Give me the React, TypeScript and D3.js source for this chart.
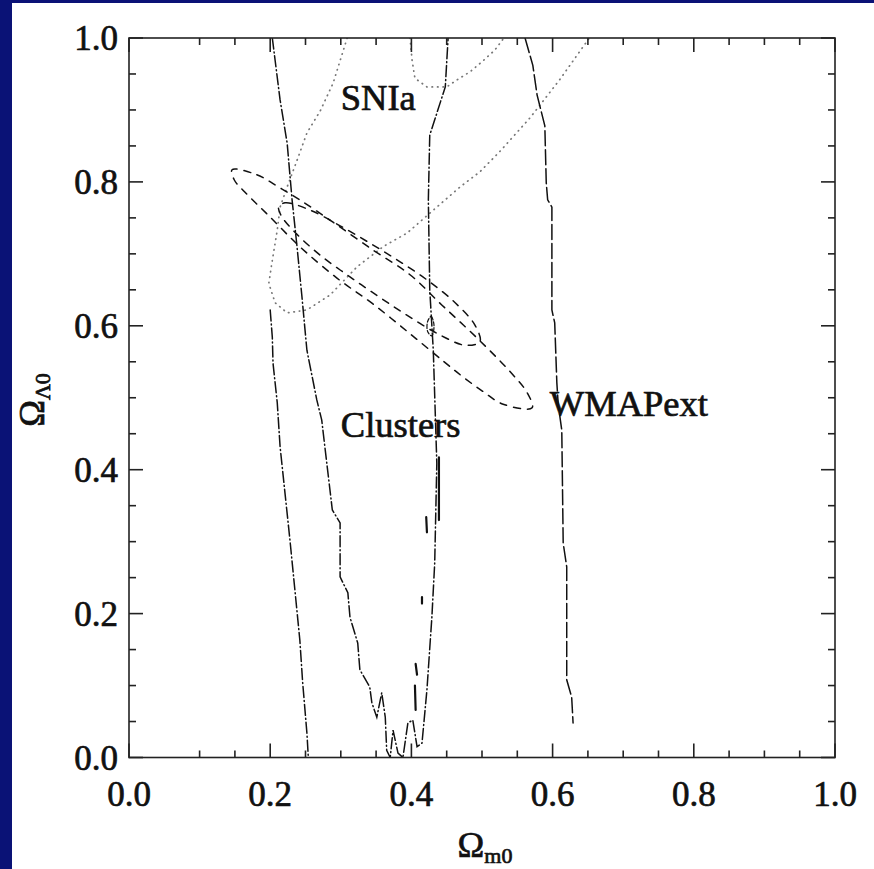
import React from 'react';
import * as d3 from 'd3';

type P = [number, number];

// ---- axes ----
const xMajorTicks = [0, 0.2, 0.4, 0.6, 0.8, 1.0];
const xTickLabels = ['0.0', '0.2', '0.4', '0.6', '0.8', '1.0'];
const xMinorTicks = [0.1, 0.15, 0.25, 0.3, 0.35, 0.45, 0.5, 0.55, 0.65, 0.7, 0.75, 0.85, 0.9, 0.95];
const yMajorTicks = [0, 0.2, 0.4, 0.6, 0.8, 1.0];
const yTickLabels = ['0.0', '0.2', '0.4', '0.6', '0.8', '1.0'];
const yMinorTicks = [0.05, 0.1, 0.15, 0.25, 0.3, 0.35, 0.45, 0.5, 0.55, 0.65, 0.7, 0.75, 0.85, 0.9, 0.95];

// ---- SNIa (dotted) ----
const sniaOuter: P[] = [
  [0.309, 1.0], [0.289, 0.937], [0.271, 0.899], [0.252, 0.868], [0.238, 0.83], [0.224, 0.793],
  [0.214, 0.765], [0.21, 0.733], [0.203, 0.691], [0.198, 0.659], [0.207, 0.632], [0.224, 0.618],
  [0.252, 0.622], [0.285, 0.643], [0.323, 0.682], [0.36, 0.71], [0.394, 0.729], [0.436, 0.765],
  [0.469, 0.793], [0.497, 0.814], [0.525, 0.842], [0.568, 0.889], [0.61, 0.942], [0.652, 1.0],
];
const sniaInner: P[] = [
  [0.398, 1.0], [0.401, 0.969], [0.405, 0.944], [0.422, 0.932], [0.45, 0.932], [0.465, 0.942],
  [0.483, 0.953], [0.5, 0.967], [0.518, 0.983], [0.531, 1.0],
];

// ---- Clusters (dash-dot) ----
const clustersInner: P[] = [
  [0.203, 1.0], [0.214, 0.914], [0.224, 0.854], [0.231, 0.775], [0.238, 0.71], [0.245, 0.64],
  [0.252, 0.566], [0.266, 0.497], [0.273, 0.469], [0.278, 0.427], [0.288, 0.344], [0.299, 0.326],
  [0.299, 0.251], [0.31, 0.229], [0.313, 0.195], [0.324, 0.159], [0.327, 0.122], [0.341, 0.098],
  [0.344, 0.076], [0.351, 0.056], [0.358, 0.09], [0.363, 0.056], [0.365, 0.01], [0.37, 0.0],
  [0.374, 0.038], [0.381, 0.006], [0.388, 0.0], [0.395, 0.048], [0.402, 0.052], [0.408, 0.015],
  [0.415, 0.02], [0.422, 0.094], [0.429, 0.195], [0.433, 0.27], [0.436, 0.409], [0.431, 0.566],
  [0.426, 0.65], [0.424, 0.775], [0.426, 0.865], [0.448, 0.932], [0.452, 1.0],
];
const clustersOuterLeft: P[] = [
  [0.2, 0.622], [0.203, 0.584], [0.204, 0.548], [0.21, 0.493], [0.214, 0.432], [0.228, 0.302],
  [0.242, 0.163], [0.246, 0.104], [0.252, 0.034], [0.254, 0.0],
];
const clustersOuterRight: P[] = [
  [0.561, 1.0], [0.572, 0.962], [0.578, 0.921], [0.589, 0.878], [0.591, 0.799], [0.593, 0.775],
  [0.599, 0.765], [0.599, 0.622], [0.603, 0.604], [0.606, 0.521], [0.608, 0.49], [0.613, 0.455],
  [0.615, 0.298], [0.62, 0.265], [0.62, 0.108], [0.627, 0.084], [0.629, 0.048],
];
const clustersLoop: P[] = [
  [0.423, 0.606], [0.428, 0.613], [0.432, 0.601], [0.429, 0.586], [0.423, 0.592],
];
const clustersFragA: P[] = [[0.439, 0.417], [0.439, 0.33]];
const clustersFragB: P[] = [[0.421, 0.334], [0.422, 0.313]];
const clustersFragC: P[] = [[0.415, 0.223], [0.415, 0.214]];
const clustersFragD: P[] = [[0.406, 0.13], [0.408, 0.115]];
const clustersFragE: P[] = [[0.405, 0.1], [0.406, 0.066]];

// ---- WMAPext (dashed) ----
const wmapOuter: P[] = [
  [0.146, 0.817], [0.181, 0.81], [0.21, 0.794], [0.242, 0.775], [0.289, 0.744], [0.346, 0.705],
  [0.398, 0.671], [0.443, 0.629], [0.493, 0.583], [0.54, 0.536], [0.564, 0.507], [0.571, 0.486],
  [0.53, 0.491], [0.501, 0.509], [0.473, 0.529], [0.445, 0.551], [0.398, 0.589], [0.346, 0.63],
  [0.295, 0.666], [0.242, 0.71], [0.197, 0.754], [0.164, 0.786], [0.149, 0.803],
];
const wmapInner: P[] = [
  [0.212, 0.765], [0.221, 0.771], [0.256, 0.761], [0.299, 0.739], [0.341, 0.715], [0.384, 0.689],
  [0.426, 0.661], [0.462, 0.632], [0.49, 0.601], [0.497, 0.578], [0.476, 0.573], [0.441, 0.587],
  [0.398, 0.612], [0.356, 0.639], [0.313, 0.668], [0.271, 0.698], [0.235, 0.73], [0.215, 0.754],
];

const labels = [
  { text: 'SNIa', x: 0.3, y: 0.9 },
  { text: 'Clusters', x: 0.3, y: 0.445 },
  { text: 'WMAPext', x: 0.596, y: 0.475 },
];

const W = 874;
const H = 869;
const PL = 129, PR = 835, PT = 38, PB = 757.5;
const FONT = '"Liberation Serif", "DejaVu Serif", serif';
const INK = '#111';

export default function App() {
  const x = d3.scaleLinear().domain([0, 1]).range([PL, PR]);
  const y = d3.scaleLinear().domain([0, 1]).range([PB, PT]);
  const line = d3.line<P>().x((d) => x(d[0])).y((d) => y(d[1]));
  const closed = d3.line<P>().x((d) => x(d[0])).y((d) => y(d[1])).curve(d3.curveCatmullRomClosed);

  const major = 14, minor = 7;
  const textStroke = { stroke: INK, strokeWidth: 0.7 };
  const frags = [clustersFragA, clustersFragB, clustersFragC, clustersFragD, clustersFragE];

  return (
    <svg width={W} height={H} style={{ position: 'fixed', left: 0, top: 0, display: 'block' }}>
      <rect x={0} y={0} width={W} height={H} fill="#0a1276" />
      <rect x={12} y={3} width={W - 12} height={H - 3} fill="#ffffff" />
      <defs>
        <clipPath id="plotclip">
          <rect x={PL} y={PT} width={PR - PL} height={PB - PT} />
        </clipPath>
      </defs>

      <g clipPath="url(#plotclip)" fill="none" strokeLinecap="round">
        <path d={line(sniaOuter) || ''} stroke="#777" strokeWidth={1.7} strokeDasharray="0.5,5" />
        <path d={line(sniaInner) || ''} stroke="#777" strokeWidth={1.7} strokeDasharray="0.5,5" />
        <path d={line(clustersInner) || ''} stroke={INK} strokeWidth={1.5} strokeDasharray="11,3,1,3" />
        <path d={line(clustersOuterLeft) || ''} stroke={INK} strokeWidth={1.5} strokeDasharray="11,3,1,3" />
        <path d={line(clustersOuterRight) || ''} stroke={INK} strokeWidth={1.5} strokeDasharray="15,4" />
        <path d={closed(clustersLoop) || ''} stroke={INK} strokeWidth={1.2} strokeDasharray="4,2" />
        {frags.map((f, i) => (
          <path key={'f' + i} d={line(f) || ''} stroke={INK} strokeWidth={2.2} />
        ))}
        <path d={closed(wmapOuter) || ''} stroke={INK} strokeWidth={1.5} strokeDasharray="7,7" />
        <path d={closed(wmapInner) || ''} stroke={INK} strokeWidth={1.5} strokeDasharray="7,7" />
      </g>

      {/* frame */}
      <rect x={PL} y={PT} width={PR - PL} height={PB - PT} fill="none" stroke="#222" strokeWidth={1.6} />

      {/* ticks */}
      <g stroke="#222" strokeWidth={1.6}>
        {xMajorTicks.map((t) => (
          <g key={'xm' + t}>
            <line x1={x(t)} x2={x(t)} y1={PB} y2={PB - major} />
            <line x1={x(t)} x2={x(t)} y1={PT} y2={PT + major} />
          </g>
        ))}
        {xMinorTicks.map((t) => (
          <g key={'xn' + t}>
            <line x1={x(t)} x2={x(t)} y1={PB} y2={PB - minor} />
            <line x1={x(t)} x2={x(t)} y1={PT} y2={PT + minor} />
          </g>
        ))}
        {yMajorTicks.map((t) => (
          <g key={'ym' + t}>
            <line x1={PL} x2={PL + major} y1={y(t)} y2={y(t)} />
            <line x1={PR} x2={PR - major} y1={y(t)} y2={y(t)} />
          </g>
        ))}
        {yMinorTicks.map((t) => (
          <g key={'yn' + t}>
            <line x1={PL} x2={PL + minor} y1={y(t)} y2={y(t)} />
            <line x1={PR} x2={PR - minor} y1={y(t)} y2={y(t)} />
          </g>
        ))}
      </g>

      {/* tick labels */}
      <g fontFamily={FONT} fontSize={35} fill={INK} {...textStroke}>
        {xMajorTicks.map((t, i) => (
          <text key={'xl' + t} x={x(t)} y={806} textAnchor="middle">{xTickLabels[i]}</text>
        ))}
        {yMajorTicks.map((t, i) => (
          <text key={'yl' + t} x={118} y={y(t) + 12} textAnchor="end">{yTickLabels[i]}</text>
        ))}
      </g>

      {/* axis titles */}
      <text x={485} y={857} textAnchor="middle" fontFamily={FONT} fontSize={36} fill={INK} {...textStroke}>
        Ω<tspan fontSize={22} dy={6}>m0</tspan>
      </text>
      <text
        transform={`translate(44, 400) rotate(-90)`}
        textAnchor="middle"
        fontFamily={FONT}
        fontSize={36}
        fill={INK}
        {...textStroke}
      >
        Ω<tspan fontSize={22} dy={6}>Λ0</tspan>
      </text>

      {/* annotations */}
      <g fontFamily={FONT} fontSize={36.5} fill={INK} {...textStroke}>
        {labels.map((l) => (
          <text key={l.text} x={x(l.x)} y={y(l.y)}>{l.text}</text>
        ))}
      </g>
    </svg>
  );
}
